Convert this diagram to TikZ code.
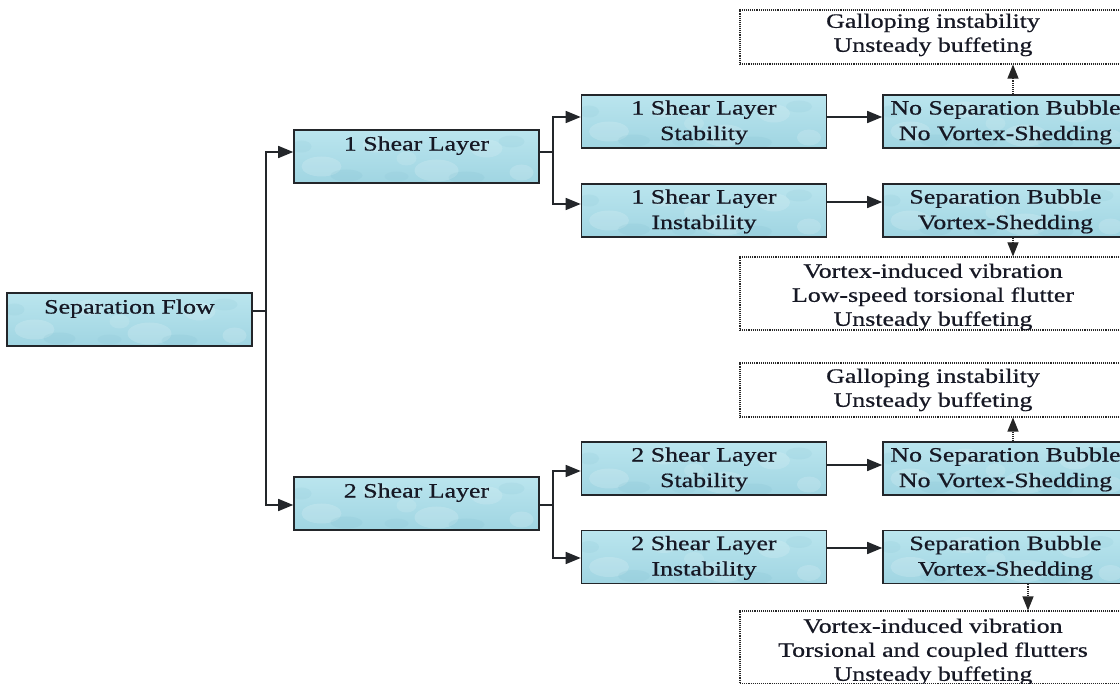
\documentclass[tikz,border=0pt]{standalone}
\usepackage{fontspec}
\setmainfont[FakeStretch=1.27,FakeBold=0.6]{Liberation Serif}
\usetikzlibrary{arrows.meta,calc}
\definecolor{aquaTop}{RGB}{186,229,238}
\definecolor{aquaBot}{RGB}{160,213,226}
\definecolor{aquaDark}{RGB}{120,185,203}
\definecolor{bord}{RGB}{35,38,42}
\definecolor{ink}{RGB}{22,24,36}
\tikzset{
  bubbles/.style={path picture={
    \begin{scope}[shift={(path picture bounding box.center)}]
      \fill[white,opacity=0.16] (-95,10) ellipse [x radius=20pt,y radius=10pt];
      \fill[white,opacity=0.14] (-40,-12) ellipse [x radius=14pt,y radius=8pt];
      \fill[white,opacity=0.16] (20,14) ellipse [x radius=22pt,y radius=11pt];
      \fill[white,opacity=0.14] (70,-8) ellipse [x radius=16pt,y radius=9pt];
      \fill[white,opacity=0.16] (105,16) ellipse [x radius=12pt,y radius=8pt];
      \fill[white,opacity=0.12] (-10,2) ellipse [x radius=10pt,y radius=7pt];
      \fill[aquaDark,opacity=0.14] (-70,19) ellipse [x radius=16pt,y radius=6pt];
      \fill[aquaDark,opacity=0.14] (50,21) ellipse [x radius=18pt,y radius=6pt];
      \fill[aquaDark,opacity=0.12] (95,-15) ellipse [x radius=13pt,y radius=6pt];
      \fill[aquaDark,opacity=0.12] (-115,-10) ellipse [x radius=10pt,y radius=6pt];
      \fill[aquaDark,opacity=0.10] (-20,20) ellipse [x radius=12pt,y radius=5pt];
    \end{scope}}},
  sbox/.style={draw=bord, line width=1.6pt, top color=aquaTop, bottom color=aquaBot,
    minimum width=245pt, minimum height=53pt, inner sep=0pt, bubbles},
  dbox/.style={draw=black!85, densely dotted, line width=1.1pt, minimum width=386pt, inner sep=0pt},
  lbl/.style={inner sep=0pt, align=center, text=ink, anchor=north,
    font=\fontsize{20.4}{25.5}\selectfont},
  dlbl/.style={lbl, font=\fontsize{20.4}{24}\selectfont},
  conn/.style={draw=bord, line width=1.6pt},
  arr/.style={conn, -{Triangle[length=15pt,width=12pt]}},
  darr/.style={draw=black!85, densely dotted, line width=1.1pt, -{Triangle[length=14pt,width=11pt]}},
}
\begin{document}
\begin{tikzpicture}[x=1pt,y=-1pt]
\useasboundingbox (0,0) rectangle (1120,684);
\clip (0,0) rectangle (1120,684);
\fill[white] (0,0) rectangle (1120,684);

% boxes
\node[sbox] (sf)  at (129.5,319.5) {};
\node[sbox] (sl1) at (416.5,156.5) {};
\node[sbox] (sl2) at (416.5,503.5) {};
\node[sbox] (st1) at (704,121.5) {};
\node[sbox] (in1) at (704,210.5) {};
\node[sbox] (st2) at (704,468.5) {};
\node[sbox] (in2) at (704,557) {};
\node[sbox] (ns1) at (1005.5,121.5) {};
\node[sbox] (sb1) at (1005.5,210.5) {};
\node[sbox] (ns2) at (1005.5,468.5) {};
\node[sbox] (sb2) at (1005.5,557) {};

% dotted boxes
\node[dbox, minimum height=54pt] (d1) at (933,37) {};
\node[dbox, minimum height=73pt] (d2) at (933,293.5) {};
\node[dbox, minimum height=54pt] (d3) at (933,390) {};
\node[dbox, minimum height=73pt] (d4) at (933,647.5) {};

% labels
\node[lbl] (sft)  at ([yshift=-7pt]sf.north)  {Separation Flow};
\node[lbl] (sl1t) at ([yshift=-7pt]sl1.north) {1 Shear Layer};
\node[lbl] (sl2t) at ([yshift=-7pt]sl2.north) {2 Shear Layer};
\node[lbl] (st1t) at ([yshift=-6pt]st1.north) {1 Shear Layer\\Stability};
\node[lbl] (in1t) at ([yshift=-6pt]in1.north) {1 Shear Layer\\Instability};
\node[lbl] (st2t) at ([yshift=-6pt]st2.north) {2 Shear Layer\\Stability};
\node[lbl] (in2t) at ([yshift=-6pt]in2.north) {2 Shear Layer\\Instability};
\node[lbl] (ns1t) at ([yshift=-6pt]ns1.north) {No Separation Bubble\\No Vortex-Shedding};
\node[lbl] (sb1t) at ([yshift=-6pt]sb1.north) {Separation Bubble\\Vortex-Shedding};
\node[lbl] (ns2t) at ([yshift=-6pt]ns2.north) {No Separation Bubble\\No Vortex-Shedding};
\node[lbl] (sb2t) at ([yshift=-6pt]sb2.north) {Separation Bubble\\Vortex-Shedding};
\node[dlbl] (d1t) at ([yshift=-4pt]d1.north) {Galloping instability\\Unsteady buffeting};
\node[dlbl] (d2t) at ([yshift=-7pt]d2.north) {Vortex-induced vibration\\Low-speed torsional flutter\\Unsteady buffeting};
\node[dlbl] (d3t) at ([yshift=-6pt]d3.north) {Galloping instability\\Unsteady buffeting};
\node[dlbl] (d4t) at ([yshift=-8pt]d4.north) {Vortex-induced vibration\\Torsional and coupled flutters\\Unsteady buffeting};

% junctions
\coordinate (j0) at (266,311);
\coordinate (j1) at (553,152);
\coordinate (j2) at (553,505);

% connectors
\draw[conn] (sf.east |- j0) -- (j0);
\draw[arr] (j0) |- ([yshift=4.5pt]sl1.west);
\draw[arr] (j0) |- ([yshift=-1.5pt]sl2.west);
\draw[conn] (sl1.east |- j1) -- (j1);
\draw[arr] (j1) |- ([yshift=4.5pt]st1.west);
\draw[arr] (j1) |- ([yshift=6.5pt]in1.west);
\draw[conn] (sl2.east |- j2) -- (j2);
\draw[arr] (j2) |- ([yshift=-2.5pt]st2.west);
\draw[arr] (j2) |- ([yshift=-1pt]in2.west);
\draw[arr] ([yshift=4.5pt]st1.east) -- ([yshift=4.5pt]ns1.west);
\draw[arr] ([yshift=8.5pt]in1.east) -- ([yshift=8.5pt]sb1.west);
\draw[arr] ([yshift=3.5pt]st2.east) -- ([yshift=3.5pt]ns2.west);
\draw[arr] ([yshift=9pt]in2.east) -- ([yshift=9pt]sb2.west);

% dotted arrows
\draw[darr] ([xshift=7.5pt]ns1.north) -- ([xshift=7.5pt]ns1.north |- d1.south);
\draw[darr] ([xshift=7.5pt]sb1.south) -- ([xshift=7.5pt]sb1.south |- d2.north);
\draw[darr] ([xshift=7.5pt]ns2.north) -- ([xshift=7.5pt]ns2.north |- d3.south);
\draw[darr] ([xshift=22.5pt]sb2.south) -- ([xshift=22.5pt]sb2.south |- d4.north);
\end{tikzpicture}
\end{document}
